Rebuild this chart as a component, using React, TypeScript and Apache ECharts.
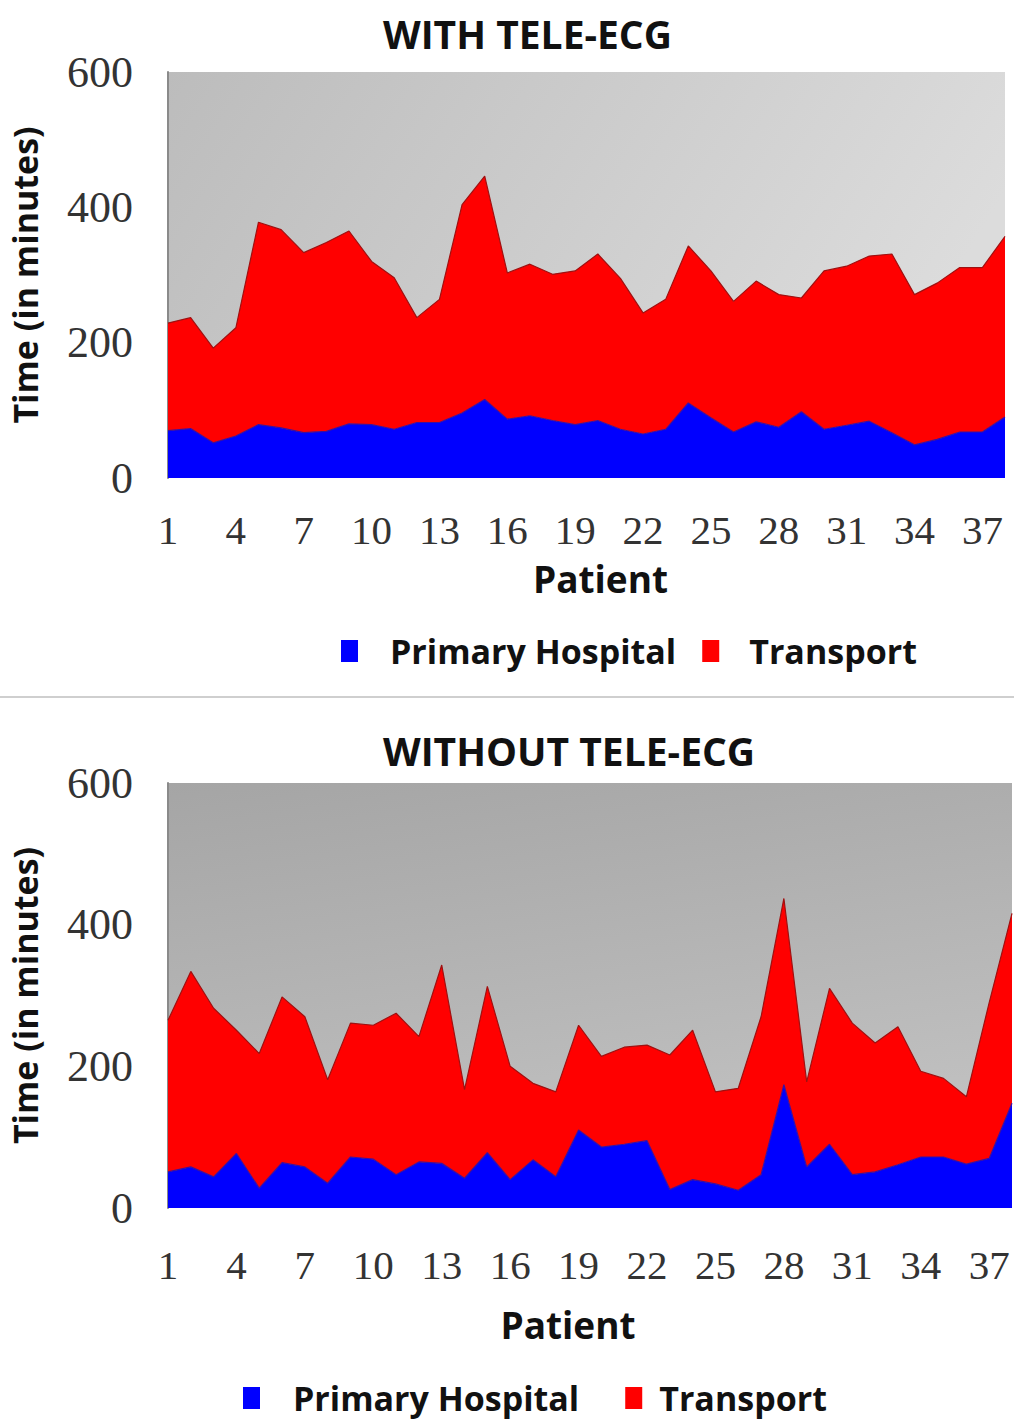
import React, { useEffect, useRef } from "react";
import * as echarts from "echarts";

const patients: string[] = Array.from({ length: 38 }, (_, i) => String(i + 1));

// WITH TELE-ECG (minutes)
const withPrimary: number[] = [70, 73, 52, 62, 79, 74, 67, 69, 80, 79, 72, 82, 82, 96, 116, 87, 92, 85, 79, 85, 72, 65, 72, 111, 89, 68, 83, 75, 98, 72, 78, 84, 67, 49, 57, 68, 68, 90];
const withTransport: number[] = [159, 164, 140, 160, 299, 293, 266, 279, 285, 241, 224, 155, 182, 308, 330, 216, 224, 216, 227, 246, 223, 179, 192, 232, 217, 193, 208, 196, 168, 234, 235, 244, 264, 222, 231, 243, 243, 267];

// WITHOUT TELE-ECG (minutes)
const withoutPrimary: number[] = [51, 58, 44, 77, 28, 64, 58, 35, 72, 69, 47, 65, 63, 42, 78, 40, 68, 44, 110, 86, 90, 95, 26, 40, 34, 25, 47, 174, 58, 90, 47, 51, 61, 72, 72, 62, 70, 148];
const withoutTransport: number[] = [214, 276, 238, 174, 190, 234, 212, 146, 189, 189, 228, 177, 280, 125, 235, 160, 108, 120, 148, 128, 137, 135, 190, 211, 130, 144, 223, 263, 120, 220, 214, 182, 195, 121, 111, 95, 220, 268];

const titles: string[] = ["WITH TELE-ECG", "WITHOUT TELE-ECG"];
const seriesNames: string[] = ["Primary Hospital", "Transport"];
const yTicks = { min: 0, max: 600, interval: 200 };

const BLUE = "#0000ff";
const RED = "#ff0000";
const SANS = "'Open Sans', 'Noto Sans', sans-serif";
const SERIF = "'Liberation Serif', 'DejaVu Serif', serif";

export default function App() {
  const ref = useRef<HTMLDivElement>(null);

  useEffect(() => {
    if (!ref.current) return;
    const chart = echarts.init(ref.current, null, { renderer: "svg" });

    const xAxisBase = (gridIndex: number, margin: number, nameGap: number, namePad: number[]) => ({
      type: "category",
      gridIndex,
      data: patients,
      boundaryGap: false,
      axisLine: { show: false },
      axisTick: { show: false },
      axisLabel: {
        interval: 2,
        margin,
        fontFamily: SERIF,
        fontSize: 41,
        color: "#333",
      },
      name: "Patient",
      nameLocation: "middle",
      nameGap,
      nameTextStyle: {
        fontFamily: SANS,
        fontWeight: "bold",
        fontSize: 37,
        color: "#111",
        padding: namePad,
      },
    });

    const yAxisBase = (gridIndex: number) => ({
      type: "value",
      gridIndex,
      min: yTicks.min,
      max: yTicks.max,
      interval: yTicks.interval,
      splitLine: { show: false },
      axisTick: { show: false },
      axisLine: { show: true, lineStyle: { color: "#8a8a8a", width: 2 } },
      axisLabel: {
        margin: 35,
        fontFamily: SERIF,
        fontSize: 44,
        color: "#333",
      },
      name: "Time (in minutes)",
      nameLocation: "middle",
      nameGap: 126,
      nameRotate: 90,
      nameTextStyle: {
        fontFamily: SANS,
        fontWeight: "bold",
        fontSize: 34,
        color: "#111",
      },
    });

    const areaSeries = (name: string, data: number[], idx: number, color: string, edge: string) => ({
      name,
      type: "line",
      stack: "total" + idx,
      xAxisIndex: idx,
      yAxisIndex: idx,
      data,
      symbol: "none",
      itemStyle: { color },
      lineStyle: { color: edge, width: 1.2 },
      areaStyle: { color, opacity: 1 },
    });

    const legendBase = (left: number, top: number, pads: number[]) => ({
      left,
      top,
      icon: "rect",
      itemWidth: 17,
      itemHeight: 22,
      itemGap: pads[2],
      padding: 0,
      data: [
        { name: seriesNames[0], textStyle: { padding: [0, 0, 0, pads[0]] } },
        { name: seriesNames[1], textStyle: { padding: [0, 0, 0, pads[1]] } },
      ],
      textStyle: {
        fontFamily: SANS,
        fontWeight: "bold",
        fontSize: 34,
        lineHeight: 36,
        color: "#111",
      },
    });

    chart.setOption({
      animation: false,
      backgroundColor: "#ffffff",
      title: [
        {
          text: titles[0],
          left: 378,
          top: 9,
          textStyle: { fontFamily: SANS, fontWeight: "bold", fontSize: 39, color: "#111" },
        },
        {
          text: titles[1],
          left: 378,
          top: 726,
          textStyle: { fontFamily: SANS, fontWeight: "bold", fontSize: 39, color: "#111" },
        },
      ],
      legend: [legendBase(341, 633, [27, 25, 26]), legendBase(243, 1380, [28, 12, 46])],
      grid: [
        {
          left: 163,
          right: 9,
          top: 72,
          height: 406,
          show: true,
          borderWidth: 0,
          backgroundColor: {
            type: "linear",
            x: 0,
            y: 0,
            x2: 1,
            y2: 0.3,
            colorStops: [
              { offset: 0, color: "#bcbcbc" },
              { offset: 1, color: "#dcdcdc" },
            ],
          },
        },
        {
          left: 163,
          right: 2,
          top: 783,
          height: 425,
          show: true,
          borderWidth: 0,
          backgroundColor: {
            type: "linear",
            x: 0,
            y: 0,
            x2: 0.3,
            y2: 1,
            colorStops: [
              { offset: 0, color: "#a5a5a5" },
              { offset: 1, color: "#c2c2c2" },
            ],
          },
        },
      ],
      xAxis: [xAxisBase(0, 31, 82, [0, 0, 0, 28]), xAxisBase(1, 36, 98, [0, 44, 0, 0])],
      yAxis: [yAxisBase(0), yAxisBase(1)],
      series: [
        areaSeries(seriesNames[0], withPrimary, 0, BLUE, "#3a10a0"),
        areaSeries(seriesNames[1], withTransport, 0, RED, "#a01010"),
        areaSeries(seriesNames[0], withoutPrimary, 1, BLUE, "#3a10a0"),
        areaSeries(seriesNames[1], withoutTransport, 1, RED, "#a01010"),
      ],
      graphic: [
        {
          type: "line",
          shape: { x1: 0, y1: 697, x2: 1014, y2: 697 },
          style: { stroke: "#cfcfcf", lineWidth: 2 },
          silent: true,
        },
      ],
    });

    return () => chart.dispose();
  }, []);

  return (
    <div
      ref={ref}
      style={{ position: "absolute", left: 0, top: 0, width: 1014, height: 1422 }}
    />
  );
}
